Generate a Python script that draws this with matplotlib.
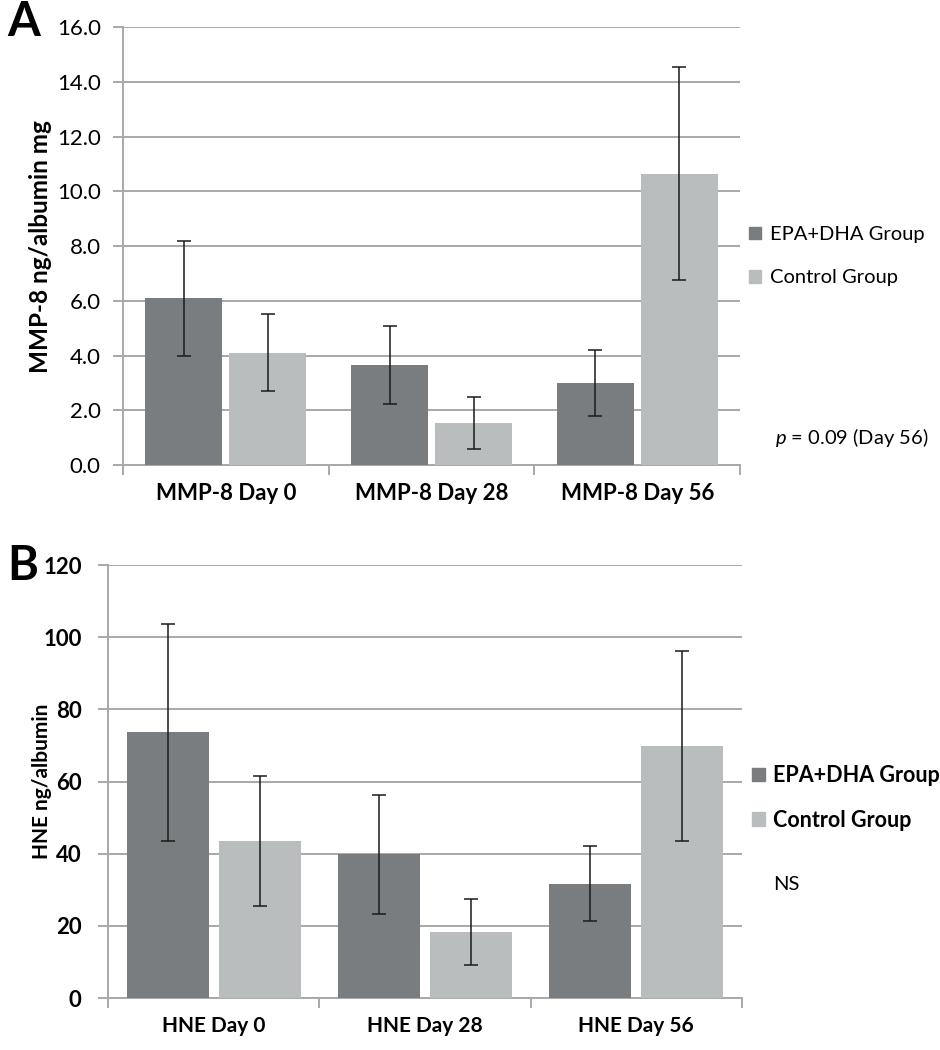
import matplotlib
matplotlib.use("Agg")
import matplotlib.pyplot as plt
import matplotlib.patches as mpatches
import numpy as np

# DATA
# ----
mmp_labels = ["MMP-8 Day 0", "MMP-8 Day 28", "MMP-8 Day 56"]
mmp_epa = [6.1, 3.65, 3.0]
mmp_epa_err = [2.1, 1.43, 1.2]
mmp_ctrl = [4.1, 1.55, 10.65]
mmp_ctrl_err = [1.4, 0.95, 3.9]

hne_labels = ["HNE Day 0", "HNE Day 28", "HNE Day 56"]
hne_epa = [73.6, 39.8, 31.7]
hne_epa_err = [30.0, 16.5, 10.3]
hne_ctrl = [43.6, 18.3, 69.8]
hne_ctrl_err = [18.0, 9.2, 26.4]

series_names = ["EPA+DHA Group", "Control Group"]

# STYLE
# -----
plt.rcParams['font.family'] = ['Lato', 'DejaVu Sans']
plt.rcParams['mathtext.fontset'] = 'custom'
plt.rcParams['mathtext.it'] = 'Lato:italic'
plt.rcParams['mathtext.rm'] = 'Lato'

dark = "#7a7d80"
light = "#babdbe"
grid_c = "#a8a8a8"
err_c = "#1a1a1a"

fig = plt.figure(figsize=(9.4, 10.5), dpi=100)
axA = fig.add_axes([0.1309, 0.5571, 0.6564, 0.4171])
axB = fig.add_axes([0.1149, 0.0495, 0.6745, 0.4124])


def draw_panel(ax, labels, epa, epa_err, ctrl, ctrl_err, width, offset,
               ymax, ystep, fmt, bold_ticks, ysize, xsize, ypad):
    x = np.arange(len(labels))
    ax.bar(x - offset, epa, width, color=dark, yerr=epa_err, capsize=5,
           error_kw=dict(ecolor=err_c, elinewidth=1.1, capthick=1.1), zorder=3)
    ax.bar(x + offset, ctrl, width, color=light, yerr=ctrl_err, capsize=5,
           error_kw=dict(ecolor=err_c, elinewidth=1.1, capthick=1.1), zorder=3)
    ax.set_xlim(-0.5, len(labels) - 0.5)
    ax.set_ylim(0, ymax)
    ticks = np.arange(0, ymax + ystep / 2, ystep)
    ax.set_yticks(ticks)
    ax.set_yticklabels([fmt.format(t) for t in ticks],
                       fontsize=ysize, fontweight='bold' if bold_ticks else 'normal')
    ax.yaxis.grid(True, color=grid_c, linewidth=1.4, zorder=0)
    ax.set_axisbelow(True)
    # category boundaries get the tick marks, names sit in between
    ax.set_xticks(np.arange(-0.5, len(labels), 1.0))
    ax.set_xticklabels([])
    ax.set_xticks(x, minor=True)
    ax.set_xticklabels(labels, minor=True, fontsize=xsize, fontweight='bold')
    ax.tick_params(axis='x', which='minor', length=0, pad=13)
    ax.tick_params(axis='x', which='major', length=7, color=grid_c, width=1.4)
    ax.tick_params(axis='y', length=7, color=grid_c, width=1.4, pad=ypad)
    for s in ['top', 'right']:
        ax.spines[s].set_visible(False)
    for s in ['left', 'bottom']:
        ax.spines[s].set_color(grid_c)
        ax.spines[s].set_linewidth(1.4)


draw_panel(axA, mmp_labels, mmp_epa, mmp_epa_err, mmp_ctrl, mmp_ctrl_err,
           0.375, 0.204, 16, 2, "{:.1f}", False, 16, 16, 9)
draw_panel(axB, hne_labels, hne_epa, hne_epa_err, hne_ctrl, hne_ctrl_err,
           0.388, 0.218, 120, 20, "{:.0f}", True, 16, 15, 12)

axA.set_ylabel("MMP-8 ng/albumin mg", fontsize=17.5, fontweight='bold')
axB.set_ylabel("HNE ng/albumin", fontsize=15, fontweight='bold')
axA.yaxis.set_label_coords(-0.115, 0.5)
axB.yaxis.set_label_coords(-0.088, 0.5)

# LEGENDS
# -------
handles = [mpatches.Patch(color=dark, label=series_names[0]),
           mpatches.Patch(color=light, label=series_names[1])]
fig.legend(handles=handles, loc='center left',
           bbox_to_anchor=(0.777, 0.756), frameon=False,
           handlelength=0.6, handleheight=0.6, handletextpad=0.45,
           labelspacing=1.3, fontsize=14.5)
fig.legend(handles=handles, loc='center left',
           bbox_to_anchor=(0.779, 0.240), frameon=False,
           handlelength=0.6, handleheight=0.6, handletextpad=0.4,
           labelspacing=1.1, prop=dict(size=15.5, weight='bold'))

fig.text(0.824, 0.583, "$p$ = 0.09 (Day 56)", fontsize=14.5, va='center')
fig.text(0.822, 0.158, "NS", fontsize=14.5, va='center')

fig.text(0.008, 0.979, "A", fontsize=34, fontweight='bold', va='center')
fig.text(0.008, 0.461, "B", fontsize=34, fontweight='bold', va='center')

fig.savefig("out.png", dpi=100)
